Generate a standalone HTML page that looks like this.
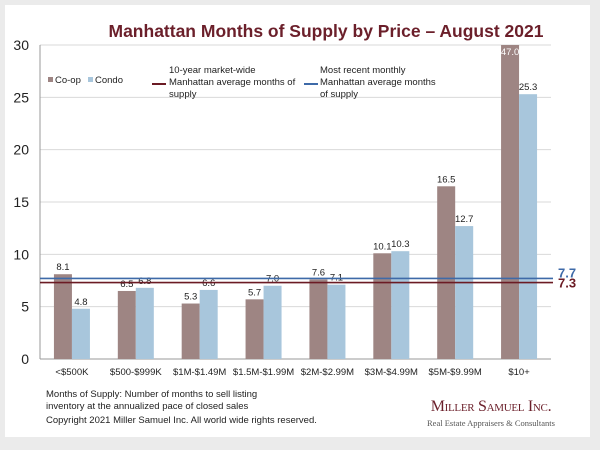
<!DOCTYPE html>
<html><head><meta charset="utf-8"><style>
body{margin:0;background:#ebebeb;width:600px;height:445px;overflow:hidden;font-family:"Liberation Sans",sans-serif}
</style></head><body>
<svg width="600" height="445" xmlns="http://www.w3.org/2000/svg" font-family="Liberation Sans, sans-serif">
<rect x="5" y="5" width="585" height="432" fill="#fff"/>
<text x="326" y="37" text-anchor="middle" font-size="17.5" font-weight="bold" fill="#6b1f2a">Manhattan Months of Supply by Price – August 2021</text>
<g id="grid"></g><g id="bars"></g><g id="refs"></g>
<g font-size="9.5" fill="#222">
<rect x="48" y="77" width="5" height="5" fill="#9e8583"/><text x="55" y="83">Co-op</text>
<rect x="88" y="77" width="5" height="5" fill="#a8c6dc"/><text x="95" y="83">Condo</text>
<line x1="152" y1="84" x2="166" y2="84" stroke="#6b1b24" stroke-width="2"/>
<text x="169" y="73">10-year market-wide</text><text x="169" y="85">Manhattan average months of</text><text x="169" y="97">supply</text>
<line x1="304" y1="84" x2="318" y2="84" stroke="#3e6aa8" stroke-width="2"/>
<text x="320" y="73">Most recent monthly</text><text x="320" y="85">Manhattan average months</text><text x="320" y="97">of supply</text>
</g>
<g font-size="9.5" fill="#222">
<text x="46" y="397">Months of Supply: Number of months to sell listing</text>
<text x="46" y="409">inventory at the annualized pace of closed sales</text>
<text x="46" y="423">Copyright 2021 Miller Samuel Inc.  All world wide rights reserved.</text>
</g>
<text x="491" y="411" text-anchor="middle" font-family="Liberation Serif, serif" font-size="16" font-variant="small-caps" letter-spacing="-0.3" fill="#6b1f2a">Miller Samuel Inc.</text>
<text x="491" y="426" text-anchor="middle" font-family="Liberation Serif, serif" font-size="8.5" fill="#555">Real Estate Appraisers &amp; Consultants</text>
</svg>
<script>
const categories=["<$500K","$500-$999K","$1M-$1.49M","$1.5M-$1.99M","$2M-$2.99M","$3M-$4.99M","$5M-$9.99M","$10+"];
const coop=[8.1,6.5,5.3,5.7,7.6,10.1,16.5,47.0];
const condo=[4.8,6.8,6.6,7.0,7.1,10.3,12.7,25.3];
const yTicks=[0,5,10,15,20,25,30];
const tenYearAvg=7.3;
const recentAvg=7.7;
const NS="http://www.w3.org/2000/svg";
const X0=40,X1=551,Y0=359,Y1=45,YMAX=30;
const y=v=>Y0-(Math.min(v,YMAX)/YMAX)*(Y0-Y1);
const bw=(X1-X0)/categories.length;
const cx=i=>X0+bw*(i+0.5);
function mk(t,a,p){const e=document.createElementNS(NS,t);for(const k in a)e.setAttribute(k,a[k]);p.appendChild(e);return e;}
const g=document.getElementById('grid'),b=document.getElementById('bars'),r=document.getElementById('refs');
yTicks.forEach(t=>{
 const l=mk('line',{x1:X0,x2:X1,y1:y(t),y2:y(t),stroke:t===0?'#999':'#d9d9d9','stroke-width':1},g);
 
 
 const tx=mk('text',{x:29,y:y(t)+5,'text-anchor':'end','font-size':14,fill:'#222'},g);tx.textContent=t;
 
 
});
const ax=mk('line',{x1:X0,x2:X0,y1:Y1,y2:Y0,stroke:'#999'},g);


categories.forEach((c,i)=>{
 const tx=mk('text',{x:cx(i),y:Y0+16,'text-anchor':'middle','font-size':9.5,fill:'#222'},g);tx.textContent=c;
 
 
 [[coop[i],-18,'#9e8583','coop'],[condo[i],0,'#a8c6dc','condo']].forEach(([v,o,col,n])=>{
  const rc=mk('rect',{x:cx(i)+o,y:y(v),width:18,height:Y0-y(v),fill:col},b);
  
  
  const clipped=v>YMAX;
  const lb=mk('text',{x:cx(i)+o+9,y:clipped?y(v)+10:y(v)-4,'text-anchor':'middle','font-size':9.5,fill:clipped?'#fff':'#222'},b);
  lb.textContent=v.toFixed(1);
  
  
 });
});
[[recentAvg,'#3e6aa8',-1,'recent-avg'],[tenYearAvg,'#6b1b24',5,'ten-year-avg']].forEach(([v,col,d,n])=>{
 const l=mk('line',{x1:X0,x2:553,y1:y(v),y2:y(v),stroke:col,'stroke-width':1.6},r);
 
 
 const t=mk('text',{x:558,y:y(v)+d,'font-size':13,'font-weight':'bold',fill:col},r);t.textContent=v.toFixed(1);
 
 
});
</script>
</body></html>
